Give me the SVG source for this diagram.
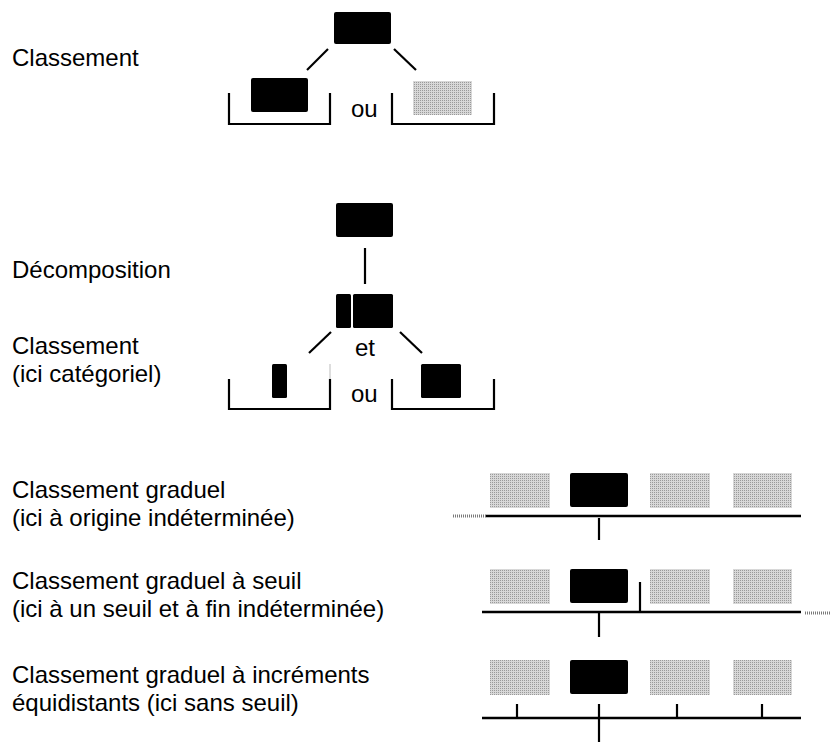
<svg xmlns="http://www.w3.org/2000/svg" width="831" height="742" viewBox="0 0 831 742">
  <defs>
    <!-- fine dotted grey used for the "other class" boxes -->
    <pattern id="dither" width="2" height="2" patternUnits="userSpaceOnUse">
      <rect width="2" height="2" fill="#d8d8d8"/>
      <rect width="1" height="1" fill="#9a9a9a"/>
    </pattern>
  </defs>
  <style>
    .lbl { font-family: "Liberation Sans", Arial, sans-serif; font-size: 24px; fill: #000; }
    .blk { fill: #000; }
    .gry { fill: url(#dither); }
    .ln { stroke: #000; stroke-width: 2.2; fill: none; }
    .axis { stroke: #000; stroke-width: 2.6; fill: none; }
    .ext { stroke: #7a7a7a; stroke-width: 3; stroke-dasharray: 1 1; fill: none; }
  </style>
  <rect width="831" height="742" fill="#fff"/>

  <!-- row labels -->
  <g id="labels">
    <text class="lbl" x="12" y="66">Classement</text>
    <text class="lbl" x="12" y="278">Décomposition</text>
    <text class="lbl" x="12" y="354">Classement</text>
    <text class="lbl" x="12" y="382">(ici catégoriel)</text>
    <text class="lbl" x="12" y="498">Classement graduel</text>
    <text class="lbl" x="12" y="526">(ici à origine indéterminée)</text>
    <text class="lbl" x="12" y="589">Classement graduel à seuil</text>
    <text class="lbl" x="12" y="617">(ici à un seuil et à fin indéterminée)</text>
    <text class="lbl" x="12" y="683">Classement graduel à incréments</text>
    <text class="lbl" x="12" y="711">équidistants (ici sans seuil)</text>
  </g>

  <!-- 1. simple classification -->
  <g id="c1-item"><rect class="blk" x="334" y="12" width="57" height="32" rx="2"/></g>
  <g id="c1-class-a">
    <path class="ln" d="M229 93 V124 H330 V93"/>
    <rect class="blk" x="251" y="78" width="57" height="34" rx="2"/>
  </g>
  <g id="c1-class-b">
    <path class="ln" d="M392 93 V124 H494 V93"/>
    <rect class="gry" x="413" y="81" width="59" height="34"/>
  </g>
  <g id="c1-or"><text class="lbl" x="351" y="117">ou</text></g>

  <!-- 2. decomposition then categorial classification -->
  <g id="c2-item"><rect class="blk" x="336" y="203" width="57" height="34" rx="2"/></g>
  <g id="c2-parts">
    <rect class="blk" x="336" y="294" width="15" height="34" rx="1.5"/>
    <rect class="blk" x="353" y="294" width="40" height="34" rx="1.5"/>
  </g>
  <g id="c2-and"><text class="lbl" x="355" y="356">et</text></g>
  <g id="c2-class-a">
    <path class="ln" d="M229 379 V409 H330 V379"/>
    <line x1="330" y1="364" x2="330" y2="379" stroke="#bbb" stroke-width="1"/>
    <rect class="blk" x="272" y="364" width="15" height="34" rx="1.5"/>
  </g>
  <g id="c2-class-b">
    <path class="ln" d="M392 379 V409 H494 V379"/>
    <rect class="blk" x="421" y="364" width="40" height="34" rx="1.5"/>
  </g>
  <g id="c2-or"><text class="lbl" x="351" y="402">ou</text></g>

  <!-- 3. gradual classification, open origin -->
  <g id="c3-scale">
    <rect class="gry" x="490" y="473" width="60" height="35"/>
    <rect class="blk" x="570" y="473" width="58" height="34" rx="2"/>
    <rect class="gry" x="650" y="473" width="60" height="35"/>
    <rect class="gry" x="733" y="473" width="59" height="35"/>
    <line class="ext" x1="453" y1="516" x2="486" y2="516"/>
    <line class="axis" x1="486" y1="516" x2="801" y2="516"/>
  </g>

  <!-- 4. gradual classification with a threshold, open end -->
  <g id="c4-scale">
    <rect class="gry" x="490" y="569" width="60" height="35"/>
    <rect class="blk" x="570" y="569" width="58" height="34" rx="2"/>
    <rect class="gry" x="650" y="569" width="60" height="35"/>
    <rect class="gry" x="733" y="569" width="59" height="35"/>
    <line class="axis" x1="482" y1="612" x2="801" y2="612"/>
    <line class="ext" x1="805" y1="613" x2="831" y2="613"/>
    <line class="ln" x1="640" y1="582" x2="640" y2="612"/>
  </g>

  <!-- 5. gradual classification with equidistant steps -->
  <g id="c5-scale">
    <rect class="gry" x="490" y="660" width="60" height="35"/>
    <rect class="blk" x="570" y="660" width="58" height="34" rx="2"/>
    <rect class="gry" x="650" y="660" width="60" height="35"/>
    <rect class="gry" x="733" y="660" width="59" height="35"/>
    <line class="axis" x1="482" y1="718" x2="801" y2="718"/>
    <line class="ln" x1="517" y1="704" x2="517" y2="718"/>
    <line class="ln" x1="677" y1="704" x2="677" y2="718"/>
    <line class="ln" x1="762" y1="704" x2="762" y2="718"/>
  </g>

  <!-- connectors -->
  <g id="connectors">
    <line class="ln" x1="328" y1="49" x2="307" y2="70"/>
    <line class="ln" x1="394" y1="49" x2="416" y2="70"/>
    <line class="ln" x1="365" y1="248" x2="365" y2="284"/>
    <line class="ln" x1="331" y1="332" x2="309" y2="353"/>
    <line class="ln" x1="400" y1="332" x2="422" y2="353"/>
    <line class="ln" x1="599" y1="518" x2="599" y2="540"/>
    <line class="ln" x1="599" y1="612" x2="599" y2="637"/>
    <line class="ln" x1="599" y1="704" x2="599" y2="742"/>
  </g>
</svg>
